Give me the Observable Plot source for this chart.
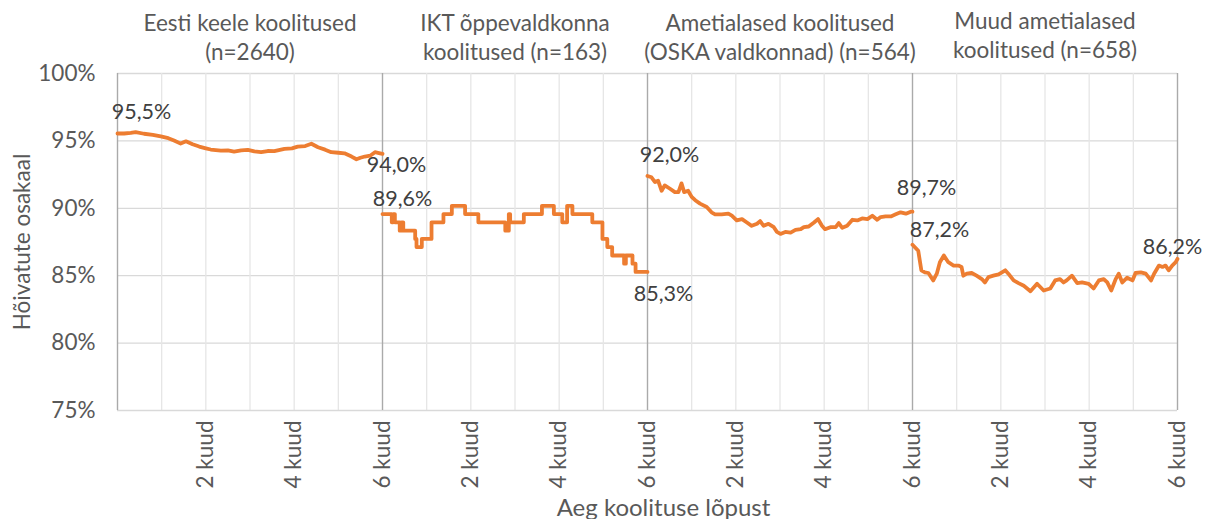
<!DOCTYPE html>
<html>
<head>
<meta charset="utf-8">
<script src="https://cdn.jsdelivr.net/npm/d3@7"></script>
<script src="https://cdn.jsdelivr.net/npm/@observablehq/plot@0.6"></script>
<style>
  html, body { margin: 0; padding: 0; background: #fff; }
  #chart svg { display: block; }
</style>
</head>
<body>
<div id="chart"></div>
<script>
// ---------- DATA ----------
const panelTitles = [
  "Eesti keele koolitused\n(n=2640)",
  "IKT õppevaldkonna\nkoolitused (n=163)",
  "Ametialased koolitused\n(OSKA valdkonnad) (n=564)",
  "Muud ametialased\nkoolitused (n=658)"
];
const tickLabels = ["2 kuud", "4 kuud", "6 kuud"];
const yTicks = [75, 80, 85, 90, 95, 100];

// Panel 1: Eesti keele koolitused (months since end, share employed %)
const eestiMonths = [0, 0.15, 0.30, 0.41, 0.60, 0.80, 0.98, 1.15, 1.28, 1.43, 1.55, 1.70, 1.85, 2.00, 2.11, 2.34, 2.50, 2.64, 2.80, 2.95, 3.10, 3.25, 3.40, 3.55, 3.78, 3.95, 4.08, 4.25, 4.39, 4.54, 4.70, 4.84, 5.00, 5.14, 5.30, 5.41, 5.50, 5.60, 5.72, 5.83, 5.92, 6.00];
const eestiValues = [95.55, 95.55, 95.6, 95.65, 95.53, 95.45, 95.33, 95.2, 95.03, 94.8, 94.97, 94.75, 94.58, 94.45, 94.36, 94.28, 94.3, 94.21, 94.3, 94.34, 94.22, 94.16, 94.25, 94.24, 94.41, 94.45, 94.58, 94.62, 94.79, 94.53, 94.35, 94.16, 94.12, 94.08, 93.84, 93.64, 93.75, 93.84, 93.9, 94.16, 94.1, 94.04];

// Panel 2: IKT õppevaldkonna koolitused (step changes)
const iktMonths = [0, 0.21, 0.24, 0.28, 0.39, 0.43, 0.47, 0.74, 0.77, 0.89, 1.11, 1.38, 1.57, 1.87, 2.17, 2.78, 2.86, 2.89, 3.20, 3.61, 3.88, 4.07, 4.18, 4.30, 4.75, 4.98, 5.09, 5.20, 5.47, 5.51, 5.66, 5.73, 6.00];
const iktValues = [89.57, 88.96, 89.57, 88.96, 88.34, 88.96, 88.34, 87.73, 87.12, 87.73, 88.96, 89.57, 90.18, 89.57, 88.96, 88.34, 89.57, 88.96, 89.57, 90.18, 89.57, 88.96, 90.18, 89.57, 88.96, 87.73, 87.12, 86.50, 85.89, 86.50, 85.89, 85.28, 85.28];

// Panel 3: Ametialased koolitused (OSKA valdkonnad)
const oskaMonths = [0, 0.09, 0.17, 0.24, 0.32, 0.39, 0.51, 0.62, 0.70, 0.77, 0.83, 0.92, 1.00, 1.08, 1.19, 1.34, 1.45, 1.53, 1.68, 1.83, 1.91, 2.02, 2.14, 2.25, 2.36, 2.48, 2.55, 2.63, 2.74, 2.86, 2.93, 3.01, 3.12, 3.24, 3.35, 3.47, 3.54, 3.65, 3.77, 3.86, 3.95, 4.02, 4.14, 4.26, 4.33, 4.41, 4.52, 4.64, 4.75, 4.86, 4.98, 5.09, 5.20, 5.28, 5.39, 5.51, 5.62, 5.73, 5.85, 5.96, 6.00];
const oskaValues = [92.4, 92.3, 91.95, 92.05, 91.3, 91.7, 91.45, 91.2, 91.2, 91.85, 91.2, 91.3, 90.85, 90.6, 90.35, 90.1, 89.7, 89.55, 89.55, 89.6, 89.45, 89.1, 89.2, 88.95, 88.7, 88.85, 89.05, 88.7, 88.85, 88.6, 88.25, 88.1, 88.25, 88.2, 88.4, 88.45, 88.6, 88.65, 88.95, 89.2, 88.7, 88.45, 88.6, 88.6, 88.9, 88.55, 88.7, 89.15, 89.1, 89.25, 89.2, 89.45, 89.15, 89.35, 89.4, 89.4, 89.55, 89.7, 89.6, 89.75, 89.75];

// Panel 4: Muud ametialased koolitused
const muudMonths = [0, 0.13, 0.20, 0.28, 0.36, 0.47, 0.55, 0.62, 0.71, 0.81, 0.93, 1.04, 1.11, 1.15, 1.23, 1.34, 1.45, 1.57, 1.64, 1.72, 1.83, 1.95, 2.10, 2.17, 2.29, 2.40, 2.52, 2.67, 2.82, 2.97, 3.12, 3.23, 3.34, 3.42, 3.49, 3.61, 3.73, 3.84, 3.99, 4.10, 4.22, 4.33, 4.41, 4.50, 4.60, 4.67, 4.75, 4.86, 4.98, 5.05, 5.17, 5.28, 5.40, 5.47, 5.58, 5.66, 5.73, 5.80, 5.88, 5.96, 6.00];
const muudValues = [87.3, 86.85, 85.4, 85.25, 85.2, 84.65, 85.15, 86.0, 86.5, 86.0, 85.75, 85.75, 85.65, 85.0, 85.15, 85.2, 85.0, 84.75, 84.5, 84.9, 85.0, 85.1, 85.4, 85.15, 84.65, 84.45, 84.25, 83.85, 84.4, 83.9, 84.05, 84.65, 84.75, 84.5, 84.65, 85.0, 84.45, 84.5, 84.4, 84.05, 84.65, 84.75, 84.5, 83.9, 84.75, 85.15, 84.5, 84.85, 84.65, 85.2, 85.25, 85.15, 84.65, 85.15, 85.75, 85.65, 85.75, 85.4, 85.75, 86.0, 86.25];

// Data labels
const labelTexts  = ["95,5%", "94,0%", "89,6%", "85,3%", "92,0%", "89,7%", "87,2%", "86,2%"];
const labelValues = [95.5, 94.0, 89.6, 85.3, 92.0, 89.7, 87.2, 86.2];
const labelPanel  = [0, 0, 1, 1, 2, 2, 3, 3];
const labelMonth  = [0, 6, 0, 6, 0, 6, 0, 6];

// ---------- STYLE ----------
const ORANGE = "#ED7D31";
const TXT = "#595959";
const FONT = "Lato, 'Open Sans', sans-serif";
const FS = 21.5;
const FS_TITLE = 22.5;
const FS_TICK = 22.5;
const labelOffsets = [[24, -22], [14, 11], [20, -15], [16, 22], [22, -26], [14, -24], [27, -16], [-5, -12]];
const titleDy = [-37, -37, -37, -39];

// ---------- BUILD ----------
const PANEL = 6;
function series(months, values, p) {
  return months.map((m, i) => ({x: p * PANEL + m, y: values[i], panel: p}));
}
const s1 = series(eestiMonths, eestiValues, 0);
const s2 = series(iktMonths, iktValues, 1);
const s3 = series(oskaMonths, oskaValues, 2);
const s4 = series(muudMonths, muudValues, 3);

const minorX = d3.range(1, 24).filter(d => d % 6 !== 0);
const majorX = [0, 6, 12, 18, 24];
const gridY = [80, 85, 90, 95, 100];
const xTicks = d3.range(2, 25, 2);

const labelMarks = labelTexts.map((t, i) => Plot.text([{x: labelPanel[i] * PANEL + labelMonth[i], y: labelValues[i], t}], {
  x: "x", y: "y", text: "t",
  dx: labelOffsets[i][0], dy: labelOffsets[i][1],
  fontSize: FS, fill: "#404040", textAnchor: "middle", lineAnchor: "middle"
}));

const titleMarks = panelTitles.map((t, i) => Plot.text([{x: i * PANEL + PANEL / 2, t}], {
  x: "x", y: () => 100, text: "t", dy: titleDy[i], fontSize: FS_TITLE, fill: TXT,
  lineHeight: 1.27, lineAnchor: "middle", textAnchor: "middle"
}));

const chart = Plot.plot({
  width: 1205,
  height: 519,
  marginTop: 73,
  marginBottom: 109,
  marginLeft: 117,
  marginRight: 28,
  x: {domain: [0, 24]},
  y: {domain: [75, 100]},
  style: {fontFamily: FONT, color: TXT, background: "#fff", overflow: "visible"},
  marks: [
    Plot.ruleY(gridY, {stroke: "#d9d9d9", strokeWidth: 1.3}),
    Plot.ruleX(minorX, {stroke: "#e6e6e6", strokeWidth: 1.3}),
    Plot.ruleY([75], {stroke: "#d9d9d9", strokeWidth: 1.3}),
    Plot.ruleX(majorX, {stroke: "#aaaaaa", strokeWidth: 1.4}),
    Plot.axisY({ticks: yTicks, tickFormat: d => d + "%", tickSize: 0, tickPadding: 22, fontSize: FS_TICK, label: null}),
    Plot.axisX({ticks: xTicks, tickFormat: d => tickLabels[(d / 2 - 1) % 3], tickRotate: -90, tickSize: 0, tickPadding: 10, fontSize: FS_TICK, label: null}),
    Plot.line(s1, {x: "x", y: "y", stroke: ORANGE, strokeWidth: 3.8, strokeLinejoin: "round"}),
    Plot.line(s2, {x: "x", y: "y", stroke: ORANGE, strokeWidth: 3.8, strokeLinejoin: "round", curve: "step-after"}),
    Plot.line(s3, {x: "x", y: "y", stroke: ORANGE, strokeWidth: 3.8, strokeLinejoin: "round"}),
    Plot.line(s4, {x: "x", y: "y", stroke: ORANGE, strokeWidth: 3.8, strokeLinejoin: "round"}),
    ...labelMarks,
    ...titleMarks,
    Plot.text(["Hõivatute osakaal"], {frameAnchor: "left", text: d => d, rotate: -90, dx: -95, fontSize: FS_TITLE, fill: TXT, textAnchor: "middle", lineAnchor: "middle"}),
    Plot.text(["Aeg koolituse lõpust"], {frameAnchor: "bottom", text: d => d, dx: 16, dy: 98, fontSize: FS + 2.5, fill: TXT, textAnchor: "middle", lineAnchor: "middle"})
  ]
});
document.getElementById("chart").appendChild(chart);
</script>
</body>
</html>
